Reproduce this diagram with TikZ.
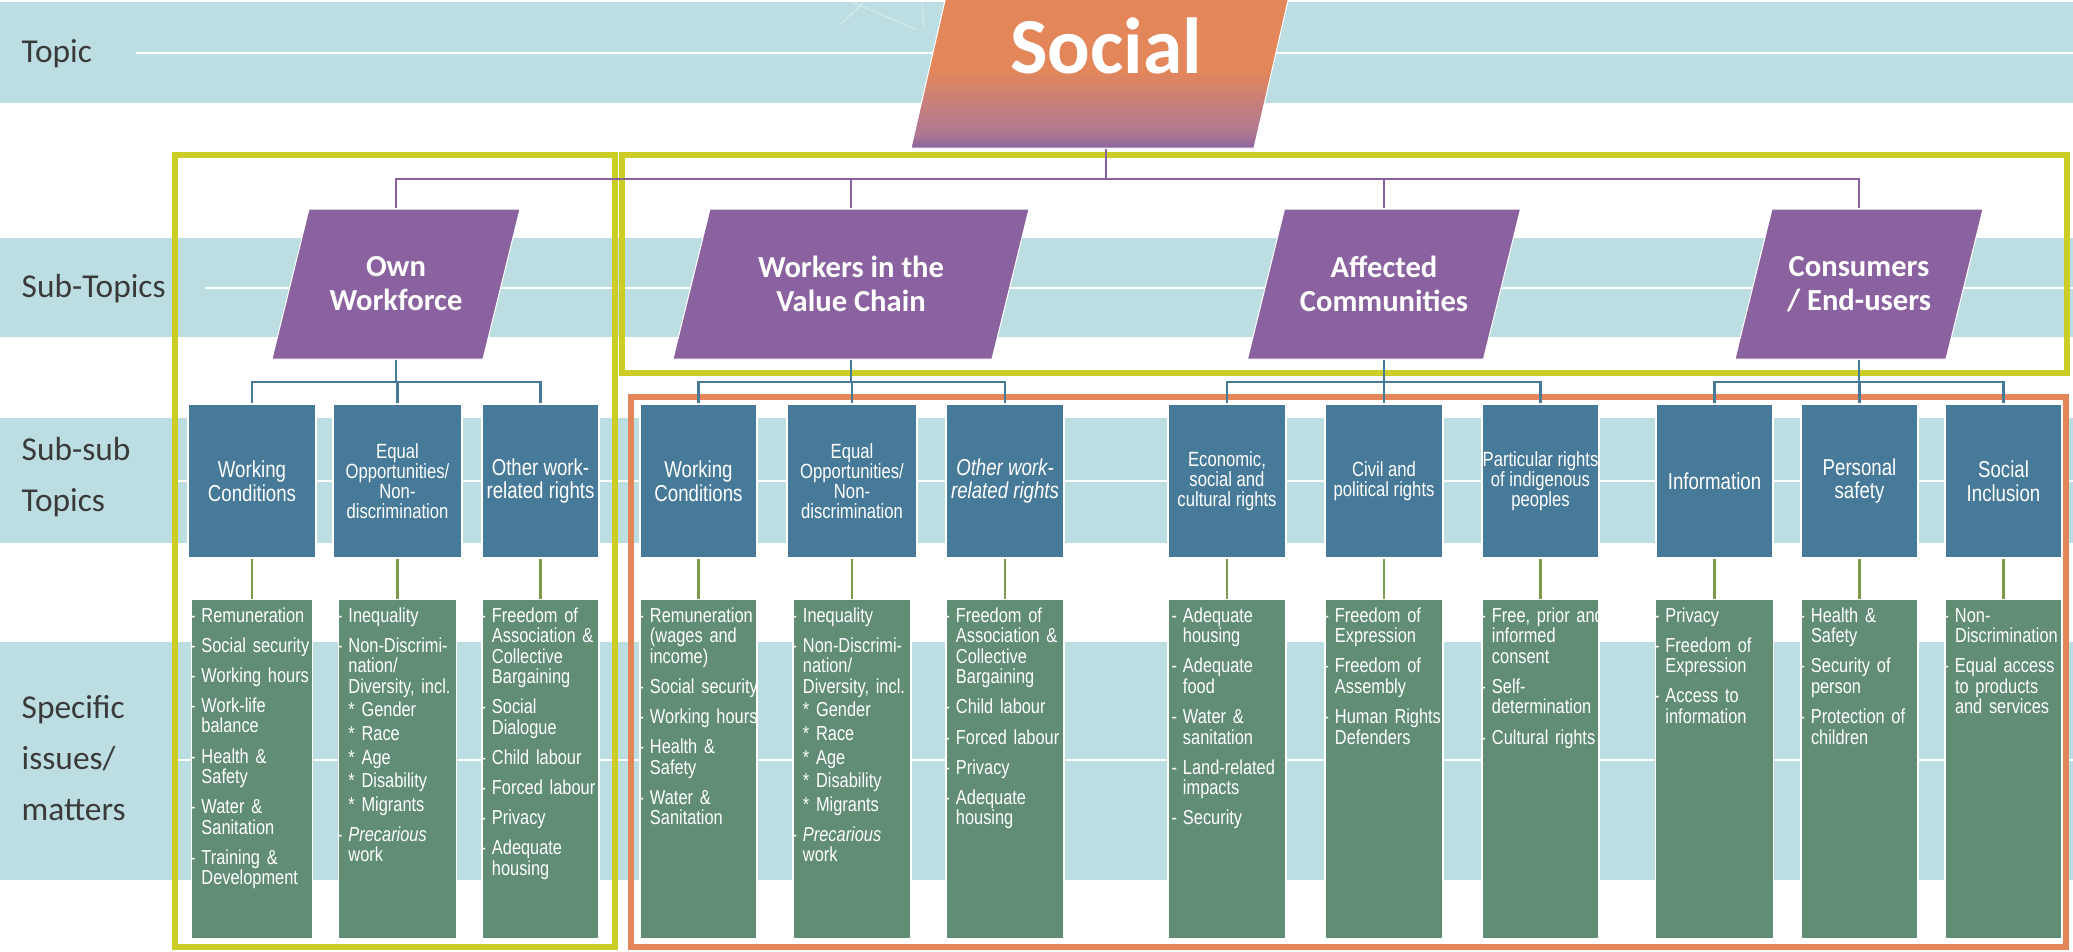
\documentclass[tikz,border=0pt]{standalone}
\usepackage{fontspec}
\usepackage{xcolor}
\usepackage{tikz}
\usetikzlibrary{positioning}

\newfontfamily\calibfont{Carlito}
\newfontfamily\arialfont[FakeStretch=0.81]{Liberation Sans}

\definecolor{bandblue}{RGB}{188,222,226}
\definecolor{topicorange}{RGB}{227,134,90}
\definecolor{fadepink}{RGB}{200,128,121}
\definecolor{fademauve}{RGB}{174,120,146}
\definecolor{subpurple}{RGB}{139,98,160}
\definecolor{subsubblue}{RGB}{71,122,153}
\definecolor{issuegreen}{RGB}{97,141,117}
\definecolor{stemgreen}{RGB}{122,155,78}
\definecolor{framegreen}{RGB}{204,206,38}
\definecolor{frameorange}{RGB}{227,135,90}
\definecolor{labelgray}{RGB}{58,58,58}

\pgfdeclareverticalshading{topicfade}{100bp}{color(0bp)=(subpurple); color(25bp)=(subpurple);
  color(28.5bp)=(fademauve); color(36.5bp)=(fadepink); color(44bp)=(topicorange); color(100bp)=(topicorange)}

% one issue per paragraph, dash hanging in the left margin
\newlength{\isindent}
\setlength{\isindent}{0.1cm}
\newcommand{\isu}{\par\parindent=0pt\parskip=0.095cm\leftskip=\isindent\rightskip=-0.2cm plus 1fil\relax
  \leavevmode\llap{-\hspace{0.06cm}}}
\newcommand{\isf}{\vskip-0.075cm\relax\isu}
\newcommand{\isc}{\par\vskip-0.065cm\relax\leavevmode}

\begin{document}
\begin{tikzpicture}[x=0.01cm, y=-0.01cm,
  band/.style={fill=bandblue},
  bandline/.style={draw=white, line width=0.02cm},
  rowlabel/.style={inner sep=0pt, align=left, text=labelgray, font=\calibfont\fontsize{9.5}{14.4}\selectfont},
  topic/.style={inner sep=0pt, minimum height=2.04cm, text=white,
    font=\calibfont\bfseries\fontsize{22.6}{24}\selectfont},
  slab/.style={draw=white, line width=0.01cm},
  subtopic/.style={inner sep=0pt, minimum height=1.5cm, minimum width=#1, text=white, align=center,
    font=\calibfont\bfseries\fontsize{8.7}{9.7}\selectfont},
  subsub/.style={fill=subsubblue, draw=white, line width=0.015cm, inner sep=0pt, minimum height=1.54cm,
    minimum width=#1, text=white, align=center, font=\arialfont\fontsize{6.55}{6.7}\selectfont},
  tight/.style={font=\arialfont\fontsize{5.85}{5.7}\selectfont},
  slantedtext/.style={font=\arialfont\itshape\fontsize{6.55}{6.7}\selectfont},
  issue/.style={fill=issuegreen, draw=white, line width=0.015cm, inner sep=0pt, text width=#1,
    text height=0pt, text depth=3.39cm, text=white, align=left, font=\arialfont\fontsize{5.75}{5.85}\selectfont},
  framebox/.style={draw=#1, line width=0.06cm},
  topicline/.style={draw=subpurple, line width=0.02cm},
  subline/.style={draw=subsubblue, line width=0.025cm},
  stem/.style={draw=stemgreen, line width=0.025cm}]
  \path[use as bounding box, clip] (0,0) rectangle (2073,951);

  % row bands
  \fill[band] (0,2) rectangle (2073,103);
  \fill[band] (0,238) rectangle (2073,337);
  \fill[band] (0,418) rectangle (2073,543);
  \fill[band] (0,642) rectangle (2073,880);
  \draw[bandline] (136,53) -- (2073,53);
  \draw[bandline] (205,288) -- (2073,288);
  \draw[bandline] (176,481) -- (2073,481);
  \draw[bandline] (176,760) -- (2073,760);
  % faint light rays left of the topic
  \draw[white, opacity=0.45, line width=0.008cm] (840,25) -- (863,3) (847,0) -- (917,30) (922,3) -- (924,30);

  % groupings
  \draw[framebox=framegreen] (175,155) rectangle (615,947);
  \draw[framebox=framegreen] (622,155) rectangle (2067,373);
  \draw[framebox=frameorange] (631,397) rectangle (2066,947);

  % row labels
  \node[rowlabel, anchor=base west] (lbtopic) at (21,62) {Topic};
  \node[rowlabel, anchor=base west] (lbsub) at (21,297) {Sub-Topics};
  \node[rowlabel, anchor=west] (lbsubsub) at (21,477) {Sub-sub\\Topics};
  \node[rowlabel, anchor=west] (lbissue) at (21,758) {Specific\\issues/\\matters};

  % topic: slanted slab, then its label
  \shade[slab, shading=topicfade] (958,-56) -- (1301,-56) -- (1254,148) -- (911,148) -- cycle;
  \node[topic, minimum width=3.43cm] (social) at (1106,46) {Social};

  % sub-topics
  \foreach \cx/\w in {396/211, 851/319, 1384/236, 1859/211}
    \filldraw[slab, fill=subpurple] (\cx-\w/2+18.5,209) -- ++(\w,0) -- ++(-37,150) -- ++(-\w,0) -- cycle;
  \node[subtopic=2.11cm] (own) at (396,284) {Own\\Workforce};
  \node[subtopic=3.19cm] (wvc) at (851,284) {Workers in the\\Value Chain};
  \node[subtopic=2.36cm] (aff) at (1384,284) {Affected\\Communities};
  \node[subtopic=2.11cm] (con) at (1859,284) {Consumers\\/ End-users};

  % sub-sub topics: own workforce
  \node[subsub=1.28cm] (wcA) at (252,481) {Working\\Conditions};
  \node[subsub=1.29cm, tight] (eoA) at (397.5,481) {Equal\\Opportunities/\\Non-\\discrimination};
  \node[subsub=1.17cm] (owA) at (540.5,481) {Other work-\\related rights};
  % value chain
  \node[subsub=1.17cm] (wcB) at (698.5,481) {Working\\Conditions};
  \node[subsub=1.30cm, tight] (eoB) at (852,481) {Equal\\Opportunities/\\Non-\\discrimination};
  \node[subsub=1.18cm, slantedtext] (owB) at (1005,481) {Other work-\\related rights};
  % affected communities
  \node[subsub=1.18cm, tight] (ecC) at (1227,481) {Economic,\\social and\\cultural rights};
  \node[subsub=1.18cm, tight] (cpC) at (1384,481) {Civil and\\political rights};
  \node[subsub=1.17cm, tight] (ipC) at (1540.5,481) {Particular rights\\of indigenous\\peoples};
  % consumers
  \node[subsub=1.17cm] (inD) at (1714.5,481) {Information};
  \node[subsub=1.17cm] (psD) at (1859.5,481) {Personal\\safety};
  \node[subsub=1.17cm] (siD) at (2003.5,481) {Social\\Inclusion};

  % specific issues
  \node[issue=1.21cm, below=0.4cm of wcA] (wcA-is) {\isf Remuneration \isu Social security \isu Working hours
    \isu Work-life\newline balance \isu Health \&\newline Safety \isu Water \&\newline Sanitation
    \isu Training \&\newline Development\par};
  \node[issue=1.18cm, below=0.4cm of eoA] (eoA-is) {\isf Inequality \isu Non-Discrimi-\newline nation/\newline Diversity, incl.
    \isc * Gender \isc * Race \isc * Age \isc * Disability \isc * Migrants \isu \textit{Precarious}\newline work\par};
  \node[issue=1.17cm, below=0.4cm of owA] (owA-is) {\isf Freedom of\newline Association \&\newline Collective\newline Bargaining
    \isu Social\newline Dialogue \isu Child labour \isu Forced labour \isu Privacy \isu Adequate\newline housing\par};
  \node[issue=1.17cm, below=0.4cm of wcB] (wcB-is) {\isf Remuneration\newline (wages and\newline income)
    \isu Social security \isu Working hours \isu Health \&\newline Safety \isu Water \&\newline Sanitation\par};
  \node[issue=1.18cm, below=0.4cm of eoB] (eoB-is) {\isf Inequality \isu Non-Discrimi-\newline nation/\newline Diversity, incl.
    \isc * Gender \isc * Race \isc * Age \isc * Disability \isc * Migrants \isu \textit{Precarious}\newline work\par};
  \node[issue=1.18cm, below=0.4cm of owB] (owB-is) {\isf Freedom of\newline Association \&\newline Collective\newline Bargaining
    \isu Child labour \isu Forced labour \isu Privacy \isu Adequate\newline housing\par};
  \node[issue=1.18cm, below=0.4cm of ecC] (ecC-is) {\setlength{\isindent}{0.15cm}\isf Adequate\newline housing
    \isu Adequate\newline food \isu Water \&\newline sanitation \isu Land-related\newline impacts \isu Security\par};
  \node[issue=1.18cm, below=0.4cm of cpC] (cpC-is) {\isf Freedom of\newline Expression \isu Freedom of\newline Assembly
    \isu Human Rights\newline Defenders\par};
  \node[issue=1.17cm, below=0.4cm of ipC] (ipC-is) {\isf Free, prior and\newline informed\newline consent
    \isu Self-\newline determination \isu Cultural rights\par};
  \node[issue=1.18cm, below=0.4cm of inD] (inD-is) {\isf Privacy \isu Freedom of\newline Expression
    \isu Access to\newline information\par};
  \node[issue=1.17cm, below=0.4cm of psD] (psD-is) {\isf Health \&\newline Safety \isu Security of\newline person
    \isu Protection of\newline children\par};
  \node[issue=1.17cm, below=0.4cm of siD] (siD-is) {\isf Non-\newline Discrimination
    \isu Equal access\newline to products\newline and services\par};

  % connectors
  \draw[topicline] (social.south) -- ++(0,-0.3cm) coordinate (hub);
  \foreach \s in {own,wvc,aff,con}
    \draw[topicline] (hub) -| (\s.north);

  \foreach \s/\a/\b/\c in {own/wcA/eoA/owA, wvc/wcB/eoB/owB, aff/ecC/cpC/ipC, con/inD/psD/siD} {
    \draw[subline] (\s.south) -- ++(0,-0.22cm) coordinate (\s-bar);
    \foreach \n in {\a,\b,\c}
      \draw[subline] (\s-bar) -| (\n.north);
  }

  \foreach \n in {wcA,eoA,owA,wcB,eoB,owB,ecC,cpC,ipC,inD,psD,siD}
    \draw[stem] (\n.south) -- (\n.south |- \n-is.north);
\end{tikzpicture}
\end{document}
